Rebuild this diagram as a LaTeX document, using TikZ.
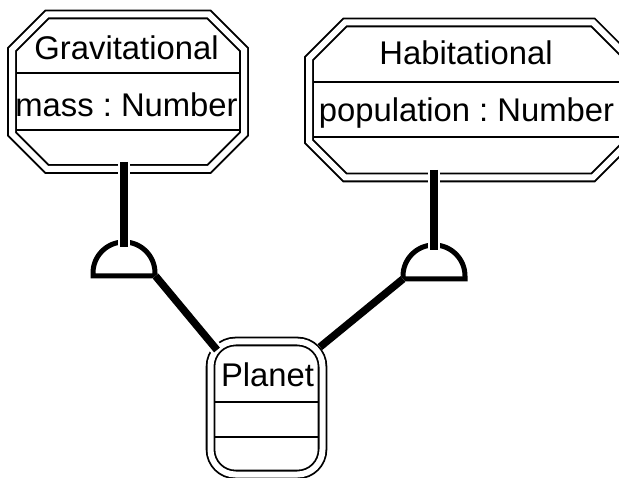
\documentclass[tikz,border=0pt]{standalone}
\usepackage{fontspec}
\setmainfont{Liberation Sans}
\frenchspacing
\begin{document}
\begin{tikzpicture}[x=1pt,y=-1pt,
  frame/.style={draw=black, line width=1.8pt, double=white, double distance=6pt, line join=miter},
  divider/.style={line width=2.5pt},
  label/.style={anchor=base, inner sep=0pt, font=\fontsize{32.8}{36}\selectfont},
  link/.style={draw=white, double=black, line width=2.6pt, double distance=7.5pt},
  cupline/.style={line width=5pt, line join=miter},
]
\clip (0,0) rectangle (619,478);
\fill[white] (0,0) rectangle (619,478);

% Gravitational aspect (octagon)
\draw[frame] (12,49.5) -- (47,14.5) -- (209,14.5) -- (244,49.5) -- (244,134) -- (209,169) -- (47,169) -- (12,134) -- cycle;
\draw[divider] (16,73) -- (240,73);
\draw[divider] (16,130) -- (240,130);
\node[label] (grav-name) at (126.5,60) {Gravitational};
\node[label] (grav-attr) at (126.5,117) {mass : Number};

% Habitational aspect (octagon, runs past the right edge)
\draw[frame] (309,58.5) -- (345,22.5) -- (593,22.5) -- (629,58.5) -- (629,141.5) -- (593,177.5) -- (345,177.5) -- (309,141.5) -- cycle;
\draw[divider] (313,82) -- (625,82);
\draw[divider] (313,137) -- (625,137);
\node[label] (hab-name) at (466,65) {Habitational};
\node[label] (hab-attr) at (466.5,122) {population : Number};

% Planet (rounded box)
\draw[frame, rounded corners=25pt] (210.5,341.5) rectangle (322.5,474.5);
\draw[divider] (215,402) -- (318,402);
\draw[divider] (215,437) -- (318,437);
\node[label] (planet-name) at (267.5,387) {Planet};

% Attachment points
\coordinate (grav-port) at (124,162);
\coordinate (grav-cup) at (124,247);
\coordinate (hab-port) at (434,170);
\coordinate (hab-cup) at (434,250);
\coordinate (grav-cup-r) at (155.5,276);
\coordinate (hab-cup-l) at (403,279);
\coordinate (planet-nw) at (217,350);
\coordinate (planet-ne) at (320,347);

% Half-circle joints
\draw[cupline] (93,276) -- (93,273) arc[start angle=180, end angle=0, radius=31pt] -- (155,276) -- cycle;
\draw[cupline] (403,279) -- (403,276) arc[start angle=180, end angle=0, radius=31pt] -- (465,279) -- cycle;

% Connectors
\draw[link] (grav-port) -- (grav-cup);
\draw[link] (hab-port) -- (hab-cup);
\draw[link] (grav-cup-r) -- (planet-nw);
\draw[link] (hab-cup-l) -- (planet-ne);
\end{tikzpicture}
\end{document}
